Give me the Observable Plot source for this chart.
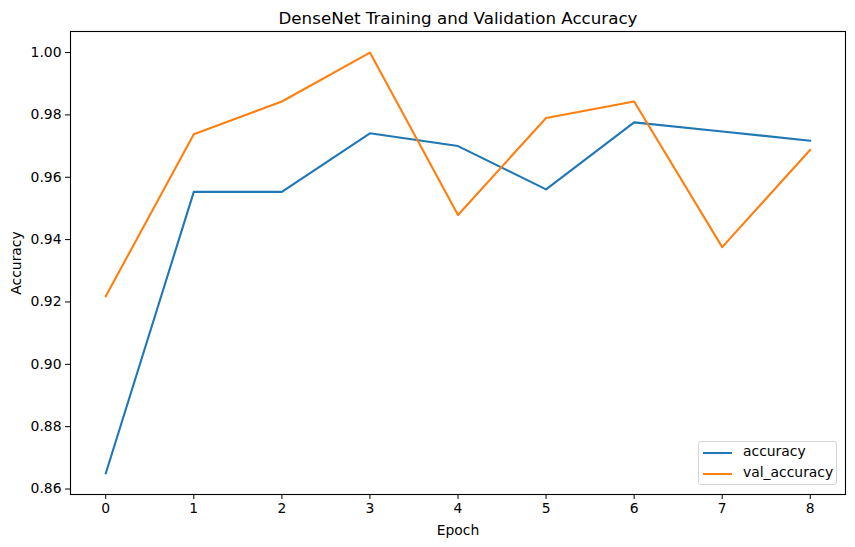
<!DOCTYPE html>
<html>
<head>
<meta charset="utf-8">
<script src="https://cdn.jsdelivr.net/npm/d3@7"></script>
<script src="https://cdn.jsdelivr.net/npm/@observablehq/plot@0.6"></script>
<style>
  body { margin: 0; background: #fff; }
  #wrap { position: relative; width: 855px; height: 547px; font-family: "DejaVu Sans", sans-serif; }
  #legend { position: absolute; left: 698px; top: 441px; width: 139px; height: 44px;
    border: 1px solid #d5d5d5; border-radius: 3px; background: rgba(255,255,255,0.8); box-sizing: border-box; }
  .item { position: absolute; left: 0; height: 20px; font-size: 13.9px; color: #000; white-space: nowrap; }
  .swatch { position: absolute; left: 4px; width: 29px; height: 2px; }
  .lbl { position: absolute; left: 44px; }
</style>
</head>
<body>
<div id="wrap"></div>
<script>
const epochs = [0, 1, 2, 3, 4, 5, 6, 7, 8];
const accuracy = [0.8650, 0.9553, 0.9553, 0.9741, 0.9700, 0.9561, 0.9776, 0.9747, 0.9717];
const valAccuracy = [0.9218, 0.9738, 0.9843, 1.0000, 0.9479, 0.9790, 0.9843, 0.9376, 0.9688];
const seriesNames = ["accuracy", "val_accuracy"];
const seriesColors = ["#1f77b4", "#ff7f0e"];
const yTicks = [0.86, 0.88, 0.90, 0.92, 0.94, 0.96, 0.98, 1.00];
const xTicks = [0, 1, 2, 3, 4, 5, 6, 7, 8];
const title = "DenseNet Training and Validation Accuracy";

const rows = [];
epochs.forEach((e, i) => {
  rows.push({epoch: e, value: accuracy[i], series: seriesNames[0]});
  rows.push({epoch: e, value: valAccuracy[i], series: seriesNames[1]});
});

const allVals = accuracy.concat(valAccuracy);
const yMin = d3.min(allVals), yMax = d3.max(allVals);
const yPad = (yMax - yMin) * 0.05;
const xPad = (d3.max(epochs) - d3.min(epochs)) * 0.05;

const chart = Plot.plot({
  width: 855,
  height: 547,
  marginLeft: 70,
  marginRight: 10,
  marginTop: 31,
  marginBottom: 53,
  style: { fontFamily: "DejaVu Sans, sans-serif", fontSize: "13.9px", background: "#fff", color: "#000" },
  x: { domain: [d3.min(epochs) - xPad, d3.max(epochs) + xPad] },
  y: { domain: [yMin - yPad, yMax + yPad] },
  color: { domain: seriesNames, range: seriesColors },
  marks: [
    Plot.axisX({ ticks: xTicks, tickFormat: d3.format("d"), tickSize: 5, tickPadding: 4,
      label: "Epoch", labelAnchor: "center", labelArrow: "none", labelOffset: 40, fontSize: 13.9 }),
    Plot.axisY({ ticks: yTicks, tickFormat: d3.format(".2f"), tickSize: 5, tickPadding: 4,
      label: "Accuracy", labelAnchor: "center", labelArrow: "none", labelOffset: 59, fontSize: 13.9 }),
    Plot.line(rows, { x: "epoch", y: "value", z: "series", stroke: "series", strokeWidth: 2.1 }),
    Plot.frame({ stroke: "#000", strokeWidth: 1.1 }),
    Plot.text([title], { text: d => d, frameAnchor: "top", dy: -8, lineAnchor: "bottom", fontSize: 16.7 })
  ]
});
const wrap = document.getElementById("wrap");
wrap.appendChild(chart);

const legend = document.createElement("div");
legend.id = "legend";
seriesNames.forEach((name, i) => {
  const item = document.createElement("div");
  item.className = "item";
  item.style.top = (i === 0 ? 1 : 22) + "px";
  item.style.width = "100%";
  const sw = document.createElement("div");
  sw.className = "swatch";
  sw.style.background = seriesColors[i];
  sw.style.top = "9px";
  const lb = document.createElement("div");
  lb.className = "lbl";
  lb.textContent = name;
  item.appendChild(sw);
  item.appendChild(lb);
  legend.appendChild(item);
});
wrap.appendChild(legend);
</script>
</body>
</html>
